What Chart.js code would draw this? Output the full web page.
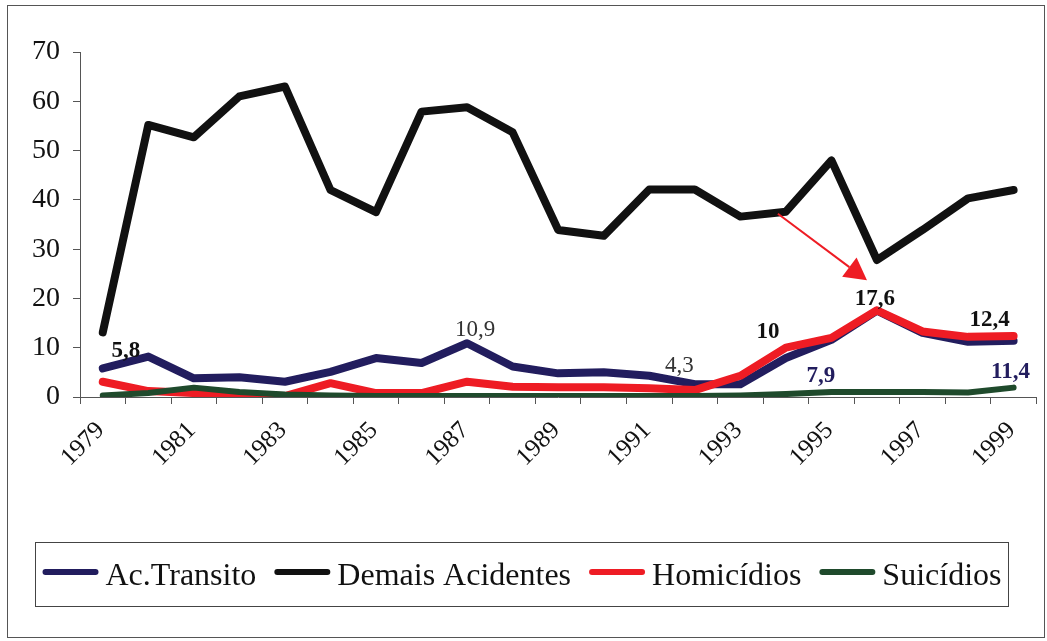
<!DOCTYPE html>
<html>
<head>
<meta charset="utf-8">
<script src="https://cdn.jsdelivr.net/npm/chart.js@4.4.1/dist/chart.umd.min.js"></script>
<style>
  html, body { margin: 0; padding: 0; background: #fff; }
  canvas { display: block; }
</style>
</head>
<body>
<canvas id="chart" width="1047" height="641"></canvas>
<script>
// categorias (anos) e séries
const years = ['1979', '1980', '1981', '1982', '1983', '1984', '1985', '1986', '1987', '1988', '1989',
               '1990', '1991', '1992', '1993', '1994', '1995', '1996', '1997', '1998', '1999'];

const acTransito      = [5.8, 8.2, 3.8, 4.0, 3.1, 5.1, 7.9, 6.9, 10.9, 6.2, 4.8, 5.0, 4.3, 2.6, 2.6, 7.9, 11.6, 17.5, 13.0, 11.2, 11.4];
const demaisAcidentes = [13.1, 55.2, 52.7, 61.0, 63.0, 42.0, 37.5, 57.9, 58.8, 53.7, 33.9, 32.7, 42.1, 42.1, 36.6, 37.6, 48.0, 27.8, 33.9, 40.3, 42.0];
const homicidios      = [3.1, 1.2, 0.8, 0.4, 0.2, 2.8, 0.8, 0.8, 3.1, 2.1, 2.0, 2.0, 1.8, 1.4, 4.3, 10, 12.0, 17.6, 13.3, 12.2, 12.4];
const suicidios       = [0.3, 0.8, 1.9, 1.0, 0.5, 0.3, 0.2, 0.2, 0.2, 0.2, 0.2, 0.2, 0.2, 0.2, 0.3, 0.6, 1.0, 1.0, 1.0, 0.9, 1.9];

const yMin = 0, yMax = 70, yStep = 10;

const SERIF = '"Liberation Serif", "Times New Roman", serif';

const NAVY = '#221d5e';
const BLACK = '#111111';
const RED = '#ee1c24';
const GREEN = '#1f4a2c';

// rótulos de valor: dataset, índice do ponto, deslocamento do texto
const valueLabels = [
    { ds: 0, i: 0,  dx: 23,  dy: -17, bold: true,  color: BLACK },
    { ds: 0, i: 8,  dx: 8,   dy: -13, bold: false, color: '#333' },
    { ds: 0, i: 12, dx: 30,  dy: -10, bold: false, color: '#333' },
    { ds: 2, i: 15, dx: -18, dy: -16, bold: true,  color: BLACK },
    { ds: 0, i: 15, dx: 35,  dy: 18,  bold: true,  color: NAVY },
    { ds: 2, i: 17, dx: -2,  dy: -11, bold: true,  color: BLACK },
    { ds: 2, i: 20, dx: -24, dy: -16, bold: true,  color: BLACK },
    { ds: 0, i: 20, dx: -3,  dy: 31,  bold: true,  color: NAVY }
];

// seta: de Demais Acidentes 1994 até Homicídios 1996
const arrowFrom = { ds: 1, i: 15, dx: -8, dy: 2 };
const arrowTo   = { ds: 2, i: 17, dx: -10, dy: -30 };

function fmt(v) {
    return String(v).replace('.', ',');
}

function pointPos(chart, ref) {
    const el = chart.getDatasetMeta(ref.ds).data[ref.i];
    return { x: el.x + ref.dx, y: el.y + ref.dy };
}

const framePlugin = {
    id: 'frame',
    beforeDraw(chart) {
        const ctx = chart.ctx;
        ctx.save();
        ctx.fillStyle = '#fff';
        ctx.fillRect(0, 0, chart.width, chart.height);
        ctx.strokeStyle = '#555';
        ctx.lineWidth = 1;
        ctx.strokeRect(7.5, 5.5, 1037, 632);
        ctx.restore();
    }
};

const labelsPlugin = {
    id: 'valueLabels',
    afterDatasetsDraw(chart) {
        const ctx = chart.ctx;
        ctx.save();
        ctx.textAlign = 'center';
        ctx.textBaseline = 'middle';
        valueLabels.forEach(l => {
            const p = pointPos(chart, l);
            ctx.font = (l.bold ? 'bold ' : '') + '23px ' + SERIF;
            ctx.fillStyle = l.color;
            ctx.fillText(fmt(chart.data.datasets[l.ds].data[l.i]), p.x, p.y);
        });

        // seta vermelha
        const a = pointPos(chart, arrowFrom);
        const b = pointPos(chart, arrowTo);
        const len = Math.hypot(b.x - a.x, b.y - a.y);
        const ux = (b.x - a.x) / len, uy = (b.y - a.y) / len;
        const headLen = 22, headW = 12;
        const bx = b.x - ux * headLen, by = b.y - uy * headLen;
        ctx.strokeStyle = RED;
        ctx.fillStyle = RED;
        ctx.lineWidth = 2;
        ctx.beginPath();
        ctx.moveTo(a.x, a.y);
        ctx.lineTo(bx, by);
        ctx.stroke();
        ctx.beginPath();
        ctx.moveTo(b.x, b.y);
        ctx.lineTo(bx - uy * headW, by + ux * headW);
        ctx.lineTo(bx + uy * headW, by - ux * headW);
        ctx.closePath();
        ctx.fill();
        ctx.restore();
    }
};

// legenda desenhada dentro de uma caixa
const legendPlugin = {
    id: 'boxLegend',
    afterDraw(chart) {
        const ctx = chart.ctx;
        const box = { x: 35.5, y: 542.5, w: 973, h: 64 };
        const lineLen = 56, gap = 7, itemGap = 18;
        ctx.save();
        ctx.strokeStyle = '#444';
        ctx.lineWidth = 1;
        ctx.strokeRect(box.x, box.y, box.w, box.h);
        ctx.font = '32px ' + SERIF;
        const ds = chart.data.datasets;
        const widths = ds.map(d => ctx.measureText(d.label).width);
        const total = widths.reduce((s, w) => s + w + lineLen + gap, 0) + itemGap * (ds.length - 1);
        let x = box.x + (box.w - total) / 2;
        const lineY = 572, baseY = 585;
        ds.forEach((d, k) => {
            ctx.strokeStyle = d.borderColor;
            ctx.lineWidth = 6;
            ctx.lineCap = 'round';
            ctx.beginPath();
            ctx.moveTo(x + 3, lineY);
            ctx.lineTo(x + lineLen - 3, lineY);
            ctx.stroke();
            x += lineLen + gap;
            ctx.fillStyle = '#111';
            ctx.textAlign = 'left';
            ctx.textBaseline = 'alphabetic';
            ctx.fillText(d.label, x, baseY);
            x += widths[k] + itemGap;
        });
        ctx.restore();
    }
};

function series(label, data, color, width, order) {
    return {
        label: label,
        data: data,
        borderColor: color,
        backgroundColor: color,
        borderWidth: width,
        borderCapStyle: 'round',
        borderJoinStyle: 'round',
        pointRadius: 0,
        tension: 0,
        order: order
    };
}

new Chart(document.getElementById('chart'), {
    type: 'line',
    data: {
        labels: years,
        datasets: [
            series('Ac.Transito', acTransito, NAVY, 8, 3),
            series('Demais Acidentes', demaisAcidentes, BLACK, 8, 4),
            series('Homicídios', homicidios, RED, 8, 2),
            series('Suicídios', suicidios, GREEN, 6, 1)
        ]
    },
    options: {
        responsive: false,
        animation: false,
        layout: {
            autoPadding: false,
            padding: { top: 52, left: 0, right: 8, bottom: 0 }
        },
        plugins: {
            legend: { display: false },
            tooltip: { enabled: false }
        },
        scales: {
            x: {
                offset: true,
                afterFit(s) { s.height = 244; },
                grid: {
                    offset: true,
                    drawOnChartArea: false,
                    drawTicks: true,
                    tickLength: 7,
                    color: '#555'
                },
                border: { display: true, color: '#555', width: 1 },
                ticks: {
                    autoSkip: false,
                    maxRotation: 45,
                    minRotation: 45,
                    padding: 12,
                    labelOffset: -2,
                    color: '#111',
                    font: { family: SERIF, size: 25 },
                    callback: function (value, index) {
                        return index % 2 === 0 ? this.getLabelForValue(value) : '';
                    }
                }
            },
            y: {
                min: yMin,
                max: yMax,
                afterFit(s) { s.width = 80; },
                grid: {
                    drawOnChartArea: false,
                    drawTicks: true,
                    tickLength: 7,
                    color: '#555'
                },
                border: { display: true, color: '#555', width: 1 },
                ticks: {
                    stepSize: yStep,
                    padding: 13,
                    color: '#111',
                    font: { family: SERIF, size: 28 }
                }
            }
        }
    },
    plugins: [framePlugin, labelsPlugin, legendPlugin]
});
</script>
</body>
</html>
